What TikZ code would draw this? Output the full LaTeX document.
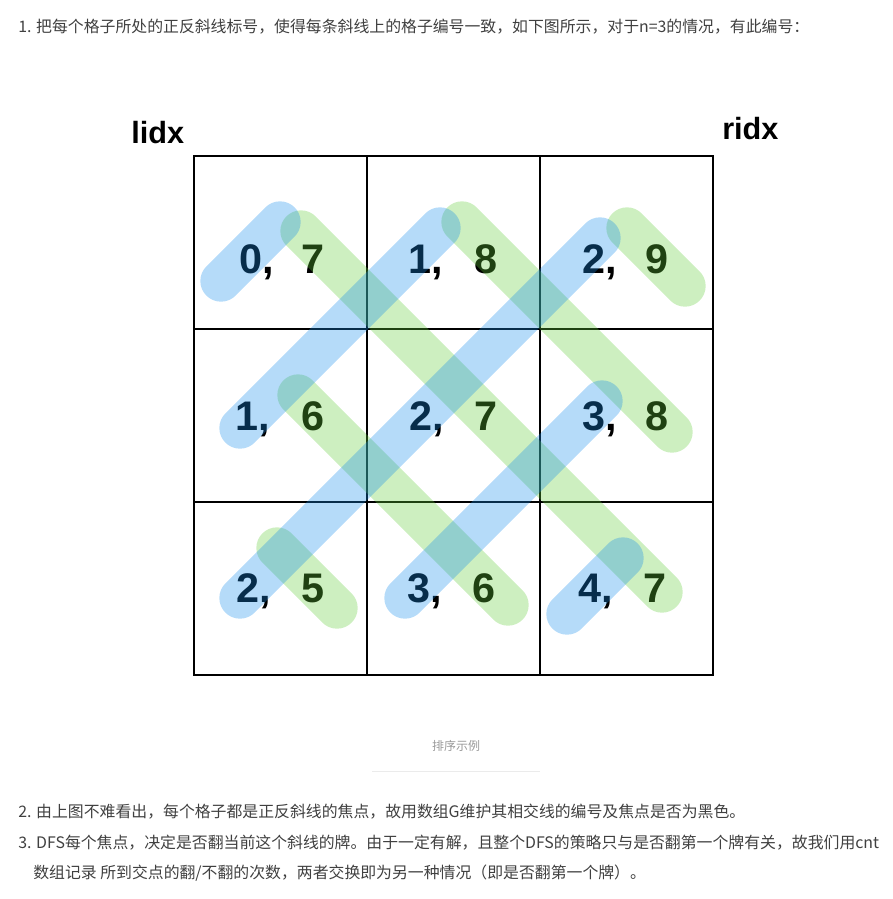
\documentclass[tikz,border=0pt]{standalone}
\usepackage{fontspec}
\setmainfont{Liberation Sans}
\newfontfamily\cjkfont{Noto Sans CJK SC}
\usetikzlibrary{positioning}
\definecolor{bandblue}{RGB}{24,142,236}
\definecolor{bandgreen}{RGB}{99,205,58}
\definecolor{bodygray}{RGB}{64,64,64}
\definecolor{capgray}{RGB}{153,153,153}
\definecolor{rulegray}{RGB}{235,235,235}

\begin{document}
\begin{tikzpicture}[
        x=0.75pt, y=-0.75pt,
        cellbox/.style={draw, line width=1.2pt, minimum size=129.75pt, inner sep=0pt, outer sep=0pt},
        num/.style={font=\bfseries\fontsize{31}{31}\selectfont, inner sep=0pt},
        tag/.style={font=\bfseries\fontsize{23}{23}\selectfont, inner sep=0pt, anchor=base west},
        para/.style={font=\cjkfont\fontsize{11.9}{12}\selectfont, text=bodygray, anchor=west, inner sep=0pt},
        blueband/.style={line width=31pt, line cap=round, draw=bandblue, draw opacity=.32},
        greenband/.style={line width=31pt, line cap=round, draw=bandgreen, draw opacity=.32}
    ]
    \useasboundingbox (0,0) rectangle (892,899);

    \node[para] (intro) at (18,27) {1. 把每个格子所处的正反斜线标号，使得每条斜线上的格子编号一致，如下图所示，对于n=3的情况，有此编号：};

    % 3x3 grid
    \node[cellbox] (c00) at (280.5,242.5) {};
    \node[cellbox, right=0pt of c00] (c01) {};
    \node[cellbox, right=0pt of c01] (c02) {};
    \node[cellbox, below=0pt of c00] (c10) {};
    \node[cellbox, right=0pt of c10] (c11) {};
    \node[cellbox, right=0pt of c11] (c12) {};
    \node[cellbox, below=0pt of c10] (c20) {};
    \node[cellbox, right=0pt of c20] (c21) {};
    \node[cellbox, right=0pt of c21] (c22) {};
    \draw[line width=1.6pt] (c00.north west) rectangle (c22.south east);

    \node[tag] (lidx) at (131,143) {lidx};
    \node[tag] (ridx) at (722,139) {ridx};

    % labels
    \node[num, anchor=base west] (l00) at (239,273) {0,};
    \node[num, anchor=base] (r00) at (313,273) {7};
    \node[num, anchor=base west] (l01) at (408,273) {1,};
    \node[num, anchor=base] (r01) at (486,273) {8};
    \node[num, anchor=base west] (l02) at (582,273) {2,};
    \node[num, anchor=base] (r02) at (657,273) {9};
    \node[num, anchor=base west] (l10) at (235,430) {1,};
    \node[num, anchor=base] (r10) at (313,430) {6};
    \node[num, anchor=base west] (l11) at (409,430) {2,};
    \node[num, anchor=base] (r11) at (486,430) {7};
    \node[num, anchor=base west] (l12) at (582,430) {3,};
    \node[num, anchor=base] (r12) at (657,430) {8};
    \node[num, anchor=base west] (l20) at (236,602) {2,};
    \node[num, anchor=base] (r20) at (313,602) {5};
    \node[num, anchor=base west] (l21) at (407,602) {3,};
    \node[num, anchor=base] (r21) at (484,602) {6};
    \node[num, anchor=base west] (l22) at (578,602) {4,};
    \node[num, anchor=base] (r22) at (655,602) {7};

    % diagonals
    \draw[greenband] (277,548) -- (337,608);
    \draw[greenband] (298,395) -- (508,605);
    \draw[greenband] (301,231) -- (662,592);
    \draw[greenband] (462,222) -- (672,432);
    \draw[greenband] (627,228) -- (685,286);
    \draw[blueband] (221,281) -- (280,222);
    \draw[blueband] (240,428) -- (440,228);
    \draw[blueband] (240,598) -- (600,238);
    \draw[blueband] (405,598) -- (602,401);
    \draw[blueband] (567,614) -- (623,558);

    \node[para, anchor=center, text=capgray, font=\cjkfont\fontsize{9}{9}\selectfont] (caption) at (456,746) {排序示例};
    \draw[rulegray, line width=0.75pt] (372,771) -- (540,771);

    \node[para] (step2) at (18,812) {2. 由上图不难看出，每个格子都是正反斜线的焦点，故用数组G维护其相交线的编号及焦点是否为黑色。};
    \node[para] (step3) at (18,843) {3. DFS每个焦点，决定是否翻当前这个斜线的牌。由于一定有解，且整个DFS的策略只与是否翻第一个牌有关，故我们用cnt};
    \node[para] (step3b) at (33,873) {数组记录 所到交点的翻/不翻的次数，两者交换即为另一种情况（即是否翻第一个牌）。};
\end{tikzpicture}
\end{document}
